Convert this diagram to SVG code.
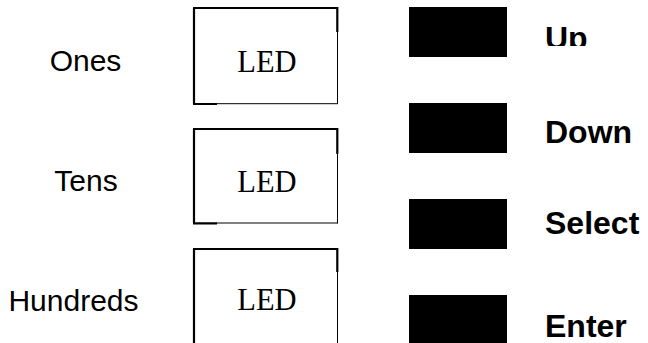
<svg xmlns="http://www.w3.org/2000/svg" width="648" height="343" viewBox="0 0 648 343">
<style>
.lbl{font-family:"Liberation Sans",Arial,sans-serif;font-size:30px;fill:#000;text-anchor:middle}
.btn{font-family:"Liberation Sans",Arial,sans-serif;font-size:32px;font-weight:bold;fill:#000}
.led{font-family:"Liberation Serif","Times New Roman",serif;font-size:30.5px;fill:#000;text-anchor:middle}
.thick{stroke:#000;stroke-width:2.2;fill:none}
.thin{stroke:#000;stroke-width:1;fill:none}
.key{fill:#000}
</style>
<defs>
<clipPath id="clipUp"><rect x="530" y="0" width="118" height="46"/></clipPath>
</defs>
<rect width="648" height="343" fill="#fff"/>
<g id="label-ones"><text class="lbl" x="85.5" y="71">Ones</text></g>
<g id="label-tens"><text class="lbl" x="86" y="191">Tens</text></g>
<g id="label-hundreds"><text class="lbl" x="73.5" y="311">Hundreds</text></g>
<g id="led-ones">
<path class="thick" d="M193 8 H337.3 V32 M194 8 V104 M193 104 H217"/>
<path class="thin" d="M337.5 32 V104 M217 103.7 H338"/>
<text class="led" x="267" y="71.7">LED</text>
</g>
<g id="led-tens">
<path class="thick" d="M193 129 H337.3 V154 M194 129 V223.3 M193 223.3 H217"/>
<path class="thin" d="M337.5 154 V223.3 M217 223 H338"/>
<text class="led" x="267" y="191.7">LED</text>
</g>
<g id="led-hundreds">
<path class="thick" d="M193 249 H337.3 V272 M194 249 V343"/>
<path class="thin" d="M337.5 272 V343"/>
<text class="led" x="267" y="310">LED</text>
</g>
<g id="btn-up">
<rect class="key" x="409" y="7" width="98" height="50"/>
<text class="btn" x="545" y="49" clip-path="url(#clipUp)">Up</text>
</g>
<g id="btn-down">
<rect class="key" x="409" y="103" width="98" height="50"/>
<text class="btn" x="545" y="142.7">Down</text>
</g>
<g id="btn-select">
<rect class="key" x="409" y="199" width="98" height="50"/>
<text class="btn" x="545" y="234.3">Select</text>
</g>
<g id="btn-enter">
<rect class="key" x="409" y="295" width="98" height="48"/>
<text class="btn" x="545" y="336.7">Enter</text>
</g>
</svg>
